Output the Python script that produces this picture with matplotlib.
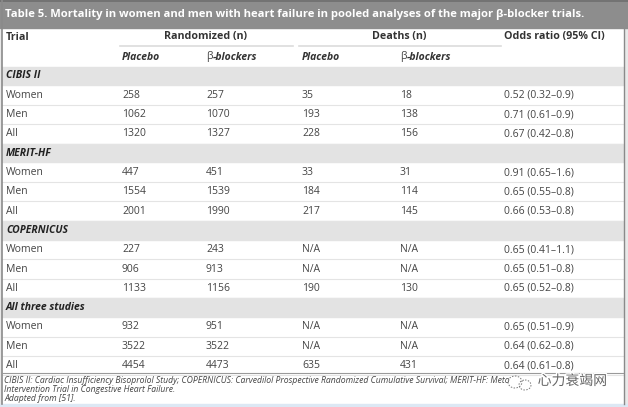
import matplotlib.pyplot as plt
from matplotlib.patches import Rectangle, Ellipse
import matplotlib.patheffects as pe

title = "Table 5. Mortality in women and men with heart failure in pooled analyses of the major \u03b2-blocker trials."
studies = ["CIBIS II", "MERIT-HF", "COPERNICUS", "All three studies"]
groups = ["Women", "Men", "All"]
rand_placebo = [[258, 1062, 1320], [447, 1554, 2001], [227, 906, 1133], [932, 3522, 4454]]
rand_bb = [[257, 1070, 1327], [451, 1539, 1990], [243, 913, 1156], [951, 3522, 4473]]
deaths_placebo = [["35", "193", "228"], ["33", "184", "217"], ["N/A", "N/A", "190"], ["N/A", "N/A", "635"]]
deaths_bb = [["18", "138", "156"], ["31", "114", "145"], ["N/A", "N/A", "130"], ["N/A", "N/A", "431"]]
odds = [["0.52 (0.32\u20130.9)", "0.71 (0.61\u20130.9)", "0.67 (0.42\u20130.8)"],
        ["0.91 (0.65\u20131.6)", "0.65 (0.55\u20130.8)", "0.66 (0.53\u20130.8)"],
        ["0.65 (0.41\u20131.1)", "0.65 (0.51\u20130.8)", "0.65 (0.52\u20130.8)"],
        ["0.65 (0.51\u20130.9)", "0.64 (0.62\u20130.8)", "0.64 (0.61\u20130.8)"]]
# first line is covered by the watermark after "Meto" in the source
footnotes = ["CIBIS II: Cardiac Insufficiency Bisoprolol Study; COPERNICUS: Carvedilol Prospective Randomized Cumulative Survival; MERIT-HF: Meto",
             "Intervention Trial in Congestive Heart Failure.",
             "Adapted from [51]."]
watermark = "\u5fc3\u529b\u8870\u7aed\u7f51"

W, H = 628, 407
fig = plt.figure(figsize=(W / 100, H / 100), dpi=100)
ax = fig.add_axes([0, 0, 1, 1])
ax.set_xlim(0, W)
ax.set_ylim(H, 0)
ax.axis("off")

FONT = "Open Sans"
TXT = "#444444"
cols = [122, 206, 302, 400, 504]
fs = 7.5

# frame
ax.add_patch(Rectangle((0, 0), W, H, color="#e9e9e9", zorder=0))
ax.add_patch(Rectangle((2, 0), 621, 404, color="white", zorder=0.5))
ax.add_patch(Rectangle((0, 0), W, 28, color="#8d8d8d", zorder=1))
ax.plot([0, W], [1, 1], color="#6e6e6e", lw=1.2, zorder=2)
ax.add_patch(Rectangle((0, 404), W, 3, color="#dce8f4", zorder=1))
ax.plot([2, 2], [0, 404], color="#8a8a8a", lw=1.2, zorder=2)
ax.plot([623.5, 623.5], [28, 404], color="#8a8a8a", lw=1.0, zorder=2)

ax.text(5, 14.5, title, color="white", fontsize=8.1, fontweight="bold", family=FONT, va="center", ha="left", zorder=3)

# header
hs = fs + 0.2
ax.text(6, 37, "Trial", color="#333333", fontsize=hs, fontweight="bold", family=FONT, va="center")
ax.text(205, 37, "Randomized (n)", color="#333333", fontsize=hs, fontweight="bold", family=FONT, va="center", ha="center")
ax.text(399, 37, "Deaths (n)", color="#333333", fontsize=hs, fontweight="bold", family=FONT, va="center", ha="center")
ax.text(504, 37, "Odds ratio (95% CI)", color="#333333", fontsize=hs, fontweight="bold", family=FONT, va="center")
ax.plot([120, 293], [46, 46], color="#dcdcdc", lw=1.2)
ax.plot([299, 501], [46, 46], color="#dcdcdc", lw=1.2)
for c in [cols[0], cols[2]]:
    ax.text(c, 57, "Placebo", color="#333333", fontsize=fs, fontweight="bold", style="italic", family=FONT, va="center")
for c in [cols[1], cols[3]]:
    ax.text(c, 57, "\u03b2", color=TXT, fontsize=fs, family=FONT, va="center")
    ax.text(c + 6.5, 57, "-blockers", color="#333333", fontsize=fs, fontweight="bold", style="italic", family=FONT, va="center")

pitch = 19.3
y = 76
for s, study in enumerate(studies):
    ax.add_patch(Rectangle((2, y - pitch / 2 + 0.5), 621, pitch - 1, color="#e3e3e3", zorder=1))
    ax.text(6, y, study, color="#222222", fontsize=fs, fontweight="bold", style="italic", family=FONT, va="center", zorder=3)
    for g, grp in enumerate(groups):
        y += pitch
        ax.plot([2, 623], [y + pitch / 2, y + pitch / 2], color="#e4e4e4", lw=0.8, zorder=1.5)
        vals = [rand_placebo[s][g], rand_bb[s][g], deaths_placebo[s][g], deaths_bb[s][g], odds[s][g]]
        ax.text(6, y, grp, color=TXT, fontsize=fs, family=FONT, va="center", zorder=3)
        for c, v in zip(cols, vals):
            ax.text(c, y, str(v), color=TXT, fontsize=fs, family=FONT, va="center", zorder=3)
    y += pitch

ax.plot([2, 623], [372.5, 372.5], color="#9a9a9a", lw=0.8, zorder=2)
for i, line in enumerate(footnotes):
    ax.text(4, 380.5 + i * 8.8, line, color="#444444", fontsize=6.2, style="italic", family=FONT, va="center", zorder=3)

# watermark
ax.add_patch(Ellipse((515, 382), 14, 12, fill=False, ec="#777777", lw=0.7, ls=(0, (1.5, 1.5)), zorder=4))
ax.add_patch(Ellipse((525, 385), 12, 10, fill=False, ec="#777777", lw=0.7, ls=(0, (1.5, 1.5)), zorder=4))
ax.text(607, 381, watermark, color="#666666", fontsize=10, family="Noto Sans CJK SC",
        va="center", ha="right", zorder=4,
        path_effects=[pe.withStroke(linewidth=2, foreground="white")])

fig.savefig("out.png", dpi=100)
